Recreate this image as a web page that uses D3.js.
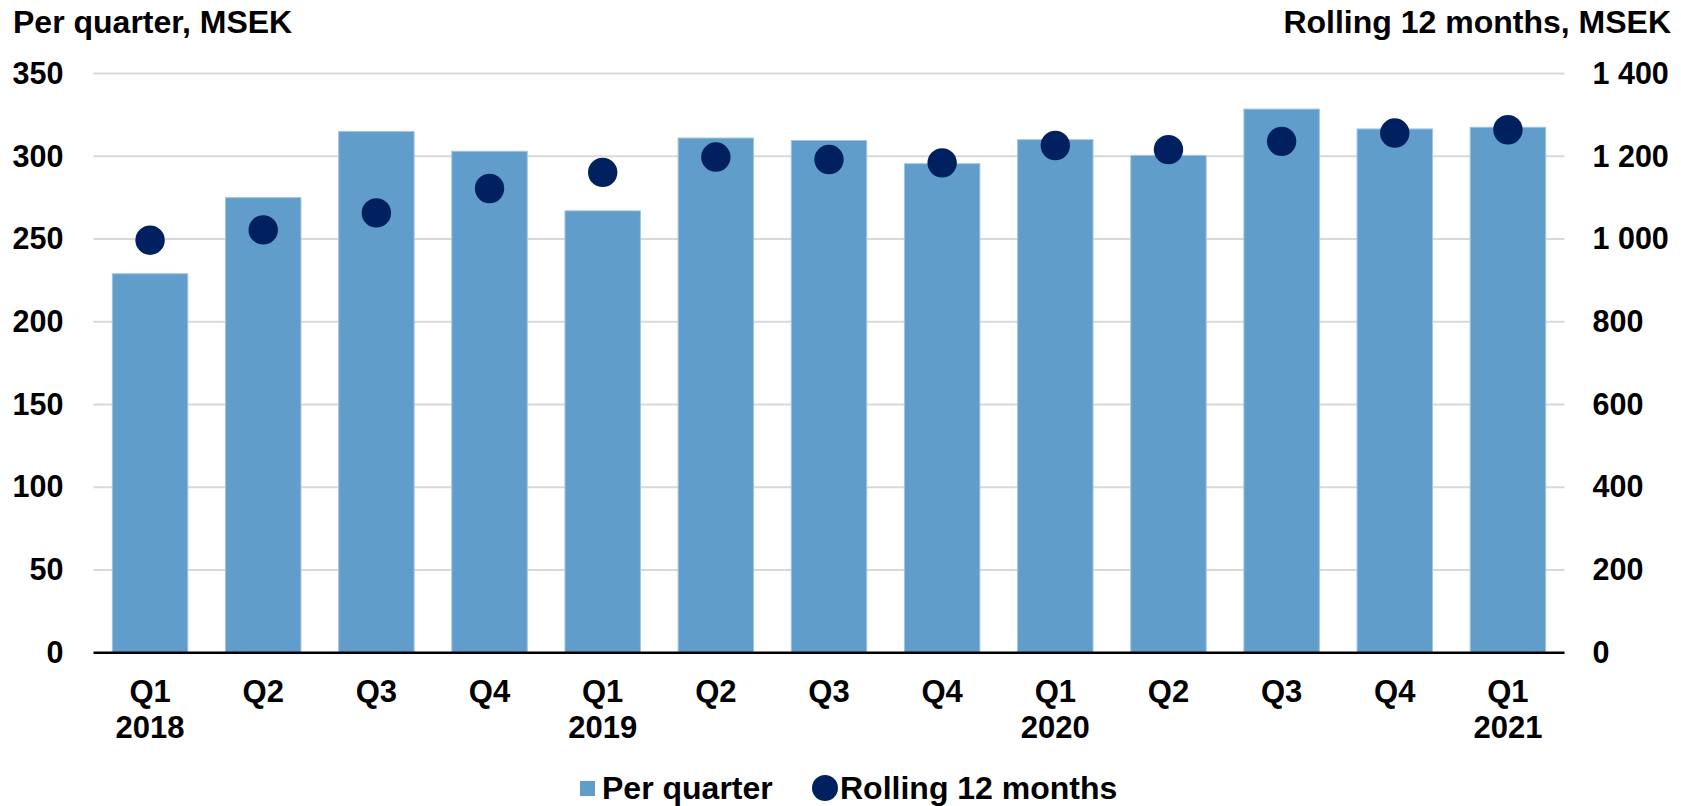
<!DOCTYPE html>
<html>
<head>
<meta charset="utf-8">
<script src="https://cdn.jsdelivr.net/npm/d3@7"></script>
<style>
  html, body { margin: 0; padding: 0; background: #ffffff; }
  svg { display: block; }
  text { font-family: "Liberation Sans", Arial, sans-serif; font-weight: bold; fill: #000; }
</style>
</head>
<body>
<svg id="chart" width="1681" height="806"></svg>
<script>
// Quarterly figures, MSEK
const quarters = ["Q1", "Q2", "Q3", "Q4", "Q1", "Q2", "Q3", "Q4", "Q1", "Q2", "Q3", "Q4", "Q1"];
const years    = ["2018", "", "", "", "2019", "", "", "", "2020", "", "", "", "2021"];
const perQuarter = [229, 275, 315, 303, 267, 311, 309.5, 295.5, 310, 300.5, 328.5, 316.5, 317.5];
const rolling12  = [997, 1022, 1063, 1122, 1161, 1198, 1192, 1184, 1226, 1216, 1236, 1256, 1264];
const leftTicks  = [0, 50, 100, 150, 200, 250, 300, 350];
const rightTicks = [0, 200, 400, 600, 800, 1000, 1200, 1400];

const svg = d3.select("#chart");
const plot = { left: 93.5, right: 1564.5, top: 73.5, bottom: 652.7 };

const x = d3.scaleBand()
  .domain(d3.range(quarters.length))
  .range([plot.left, plot.right])
  .paddingInner(1 / 3)
  .paddingOuter(1 / 6);

const yL = d3.scaleLinear().domain([0, 350]).range([plot.bottom, plot.top]);
const yR = d3.scaleLinear().domain([0, 1400]).range([plot.bottom, plot.top]);

const fmtSpace = v => d3.format(",")(v).replace(/,/g, " ");

// Horizontal gridlines
svg.append("g")
  .selectAll("line")
  .data(leftTicks.filter(d => d > 0))
  .join("line")
  .attr("x1", plot.left).attr("x2", plot.right)
  .attr("y1", d => yL(d)).attr("y2", d => yL(d))
  .attr("stroke", "#d9d9d9")
  .attr("stroke-width", 2);

// Left axis
const axL = svg.append("g")
  .attr("transform", `translate(${plot.left},0)`)
  .call(d3.axisLeft(yL).tickValues(leftTicks).tickSize(0).tickPadding(30));
axL.select(".domain").remove();
axL.selectAll("text").style("font-size", "30.5px").style("font-family", "Liberation Sans, Arial, sans-serif").style("font-weight", "bold").attr("fill", "#000");

// Right axis
const axR = svg.append("g")
  .attr("transform", `translate(${plot.right},0)`)
  .call(d3.axisRight(yR).tickValues(rightTicks).tickSize(0).tickPadding(28).tickFormat(fmtSpace));
axR.select(".domain").remove();
axR.selectAll("text").style("font-size", "30.5px").style("font-family", "Liberation Sans, Arial, sans-serif").style("font-weight", "bold").attr("fill", "#000");

// Bars: per quarter
svg.append("g")
  .selectAll("rect")
  .data(perQuarter)
  .join("rect")
  .attr("x", (d, i) => x(i))
  .attr("width", x.bandwidth())
  .attr("y", d => yL(d))
  .attr("height", d => yL(0) - yL(d))
  .attr("fill", "#609dcb")
  .attr("stroke", "#9fc4e4")
  .attr("stroke-width", 1);

// Baseline
svg.append("line")
  .attr("x1", plot.left).attr("x2", plot.right)
  .attr("y1", yL(0)).attr("y2", yL(0))
  .attr("stroke", "#000")
  .attr("stroke-width", 2.5);

// Dots: rolling 12 months
svg.append("g")
  .selectAll("circle")
  .data(rolling12)
  .join("circle")
  .attr("cx", (d, i) => x(i) + x.bandwidth() / 2)
  .attr("cy", d => yR(d))
  .attr("r", 14.7)
  .attr("fill", "#002060");

// Category labels
const cat = svg.append("g");
quarters.forEach((q, i) => {
  const cx = x(i) + x.bandwidth() / 2;
  cat.append("text")
    .attr("x", cx).attr("y", 702)
    .attr("text-anchor", "middle")
    .style("font-size", "31px")
    .text(q);
  if (years[i]) {
    cat.append("text")
      .attr("x", cx).attr("y", 738)
      .attr("text-anchor", "middle")
      .style("font-size", "31px")
      .text(years[i]);
  }
});

// Axis titles
svg.append("text")
  .attr("x", 13).attr("y", 33)
  .style("font-size", "32px")
  .text("Per quarter, MSEK");
svg.append("text")
  .attr("x", 1671).attr("y", 33)
  .attr("text-anchor", "end")
  .style("font-size", "32px")
  .text("Rolling 12 months, MSEK");

// Legend
const lg = svg.append("g");
lg.append("rect")
  .attr("x", 580).attr("y", 781)
  .attr("width", 15).attr("height", 15)
  .attr("fill", "#609dcb");
lg.append("text")
  .attr("x", 602).attr("y", 799)
  .style("font-size", "32px")
  .text("Per quarter");
lg.append("circle")
  .attr("cx", 825).attr("cy", 788)
  .attr("r", 13)
  .attr("fill", "#002060");
lg.append("text")
  .attr("x", 840).attr("y", 799)
  .style("font-size", "32px")
  .text("Rolling 12 months");
</script>
</body>
</html>
